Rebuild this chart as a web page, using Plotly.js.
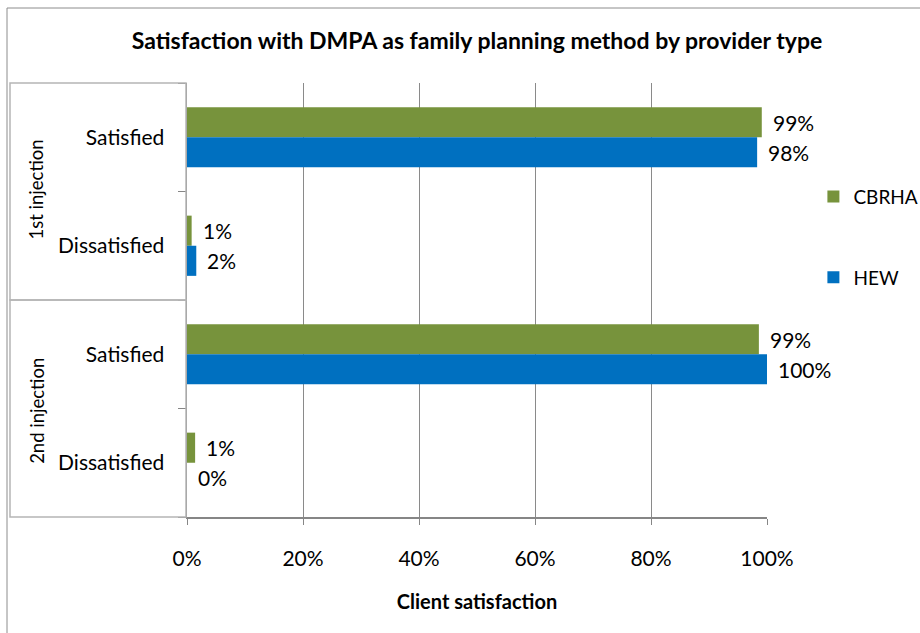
<!DOCTYPE html>
<html>
<head>
<meta charset="utf-8">
<script src="https://cdn.plot.ly/plotly-3.0.1.min.js"></script>
<style>
  html, body { margin: 0; padding: 0; background: #fff; }
  #chart { width: 920px; height: 633px; }
</style>
</head>
<body>
<div id="chart"></div>
<script>
// ---- data ----
const groups = ['1st injection', '1st injection', '2nd injection', '2nd injection'];
const responses = ['Satisfied', 'Dissatisfied', 'Satisfied', 'Dissatisfied'];
const seriesNames = ['CBRHA', 'HEW'];
const cbrhaValues = [0.991, 0.008, 0.986, 0.014];
const hewValues = [0.983, 0.016, 1.000, 0.000];
const cbrhaLabels = ['99%', '1%', '99%', '1%'];
const hewLabels = ['98%', '2%', '100%', '0%'];
const xTickVals = [0, 0.2, 0.4, 0.6, 0.8, 1.0];
const xTickText = ['0%', '20%', '40%', '60%', '80%', '100%'];
const groupNames = ['1st injection', '2nd injection'];

// ---- build ----
const FONT = 'Lato, "Open Sans", sans-serif';
const keys = groups.map((g, i) => g + ' | ' + responses[i]);
const colors = ['#77933C', '#0070C0'];

const traces = [
  {type: 'bar', orientation: 'h', name: seriesNames[0], x: cbrhaValues, y: keys,
   marker: {color: colors[0]}, legendgroup: 'a', hoverinfo: 'skip'},
  {type: 'bar', orientation: 'h', name: seriesNames[1], x: hewValues, y: keys,
   marker: {color: colors[1]}, legendgroup: 'b', hoverinfo: 'skip'}
];

const annotations = [];
const labelSets = [cbrhaLabels, hewLabels];
const valueSets = [cbrhaValues, hewValues];
const shifts = [15, -15];
for (let s = 0; s < 2; s++) {
  for (let i = 0; i < keys.length; i++) {
    annotations.push({
      x: valueSets[s][i], y: keys[i], xref: 'x', yref: 'y',
      text: labelSets[s][i], showarrow: false, xanchor: 'left', yanchor: 'middle',
      xshift: 9, yshift: shifts[s],
      font: {family: FONT, size: 21, color: '#000'}
    });
  }
}
// group labels (rotated)
const groupY = [0.755, 0.245];
groupNames.forEach((g, i) => {
  annotations.push({
    x: -0.26, y: groupY[i], xref: 'paper', yref: 'paper', text: g,
    textangle: -90, showarrow: false, xanchor: 'center', yanchor: 'middle',
    font: {family: FONT, size: 18.5, color: '#000'}
  });
});

// pixel helpers for decorative boxes (paper coordinates)
const L = 187, R = 767, T = 83, B = 517;
const px = v => (v - L) / (R - L);
const py = v => (B - v) / (B - T);

const shapes = [
  // outer chart border
  {type: 'rect', xref: 'paper', yref: 'paper', x0: px(7), x1: px(960), y0: py(8), y1: py(680),
   line: {color: '#8c8c8c', width: 1}, fillcolor: 'rgba(0,0,0,0)'},
  // group boxes
  {type: 'rect', xref: 'paper', yref: 'paper', x0: px(10), x1: px(186), y0: py(83), y1: py(300),
   line: {color: '#b5b5b5', width: 1.5}, fillcolor: 'rgba(0,0,0,0)'},
  {type: 'rect', xref: 'paper', yref: 'paper', x0: px(10), x1: px(186), y0: py(300), y1: py(517),
   line: {color: '#b5b5b5', width: 1.5}, fillcolor: 'rgba(0,0,0,0)'}
];

const layout = {
  width: 920, height: 633,
  margin: {l: 187, r: 153, t: 83, b: 116, autoexpand: false},
  paper_bgcolor: '#fff', plot_bgcolor: '#fff',
  font: {family: FONT, size: 21, color: '#000'},
  title: {text: '<b>Satisfaction with DMPA as family planning method by provider type</b>',
          font: {family: FONT, size: 23, color: '#000'},
          x: 0.5, xref: 'paper', xanchor: 'center', y: 1 - 41 / 633, yanchor: 'middle', yref: 'container'},
  barmode: 'group', bargap: 0.445, bargroupgap: 0,
  xaxis: {range: [0, 1], tickvals: xTickVals, ticktext: xTickText, automargin: false,
          showgrid: true, gridcolor: '#8a8a8a', gridwidth: 1,
          showline: true, linecolor: '#868686', linewidth: 1.5,
          ticks: 'outside', ticklen: 6, tickcolor: '#868686',
          ticklabelstandoff: 16, zeroline: false, fixedrange: true,
          tickfont: {family: FONT, size: 21},
          title: {text: '<b>Client satisfaction</b>', font: {family: FONT, size: 20}, standoff: 26}},
  yaxis: {type: 'category', autorange: 'reversed', tickvals: keys, ticktext: responses, automargin: false,
          tickson: 'boundaries', ticks: 'outside', ticklen: 8, tickcolor: '#868686',
          showline: true, linecolor: '#868686', linewidth: 1.5, showgrid: false,
          ticklabelstandoff: 17, fixedrange: true, tickfont: {family: FONT, size: 21}},
  legend: {x: 1.08, xanchor: 'left', y: 0.782, yanchor: 'top', traceorder: 'grouped',
           tracegroupgap: 53, font: {family: FONT, size: 19}, bgcolor: 'rgba(0,0,0,0)'},
  annotations: annotations,
  shapes: shapes,
  showlegend: true
};

Plotly.newPlot('chart', traces, layout, {displayModeBar: false, staticPlot: true});
</script>
</body>
</html>
